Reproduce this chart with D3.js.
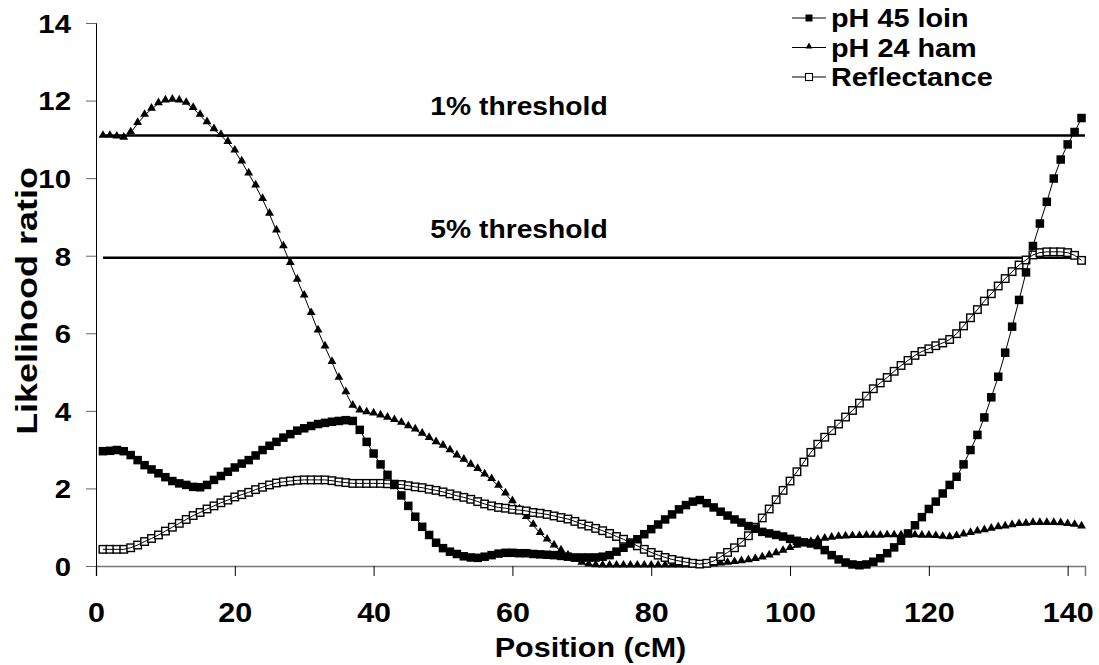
<!DOCTYPE html>
<html>
<head>
<meta charset="utf-8">
<script src="https://cdn.jsdelivr.net/npm/d3@7"></script>
<style>
  body { margin: 0; background: #fff; }
  text { font-family: "Liberation Sans", Arial, sans-serif; font-weight: bold; fill: #000; }
</style>
</head>
<body>
<svg id="chart" width="1099" height="665"></svg>
<script>
// marker grid, one point per cM
var positions = d3.range(1, 143);

var loin = [2.96, 2.97, 2.99, 2.96, 2.86, 2.73, 2.60, 2.49, 2.39, 2.29,
	2.19, 2.13, 2.09, 2.04, 2.03, 2.09, 2.22, 2.32, 2.43, 2.54,
	2.64, 2.73, 2.85, 2.99, 3.10, 3.20, 3.31, 3.40, 3.49, 3.55,
	3.61, 3.66, 3.69, 3.72, 3.74, 3.76, 3.74, 3.51, 3.20, 2.90,
	2.62, 2.35, 2.09, 1.82, 1.55, 1.27, 1.01, 0.80, 0.60, 0.46,
	0.37, 0.31, 0.25, 0.22, 0.21, 0.24, 0.28, 0.32, 0.34, 0.34,
	0.33, 0.33, 0.31, 0.30, 0.29, 0.28, 0.26, 0.24, 0.22, 0.22,
	0.22, 0.22, 0.24, 0.28, 0.37, 0.47, 0.58, 0.69, 0.82, 0.95,
	1.07, 1.20, 1.33, 1.46, 1.57, 1.66, 1.70, 1.62, 1.51, 1.40,
	1.30, 1.20, 1.12, 1.03, 0.96, 0.88, 0.84, 0.80, 0.76, 0.70,
	0.65, 0.61, 0.58, 0.54, 0.41, 0.28, 0.17, 0.09, 0.04, 0.02,
	0.04, 0.11, 0.20, 0.33, 0.48, 0.65, 0.84, 1.05, 1.26, 1.47,
	1.66, 1.87, 2.09, 2.30, 2.62, 2.99, 3.38, 3.83, 4.35, 4.88,
	5.50, 6.17, 6.86, 7.57, 8.25, 8.83, 9.39, 9.99, 10.48, 10.87,
	11.19, 11.55];

var ham = [11.08, 11.08, 11.06, 11.03, 11.17, 11.41, 11.62, 11.78, 11.92, 11.99,
	12.01, 11.99, 11.93, 11.80, 11.62, 11.43, 11.25, 11.10, 10.92, 10.70,
	10.42, 10.11, 9.80, 9.45, 9.07, 8.64, 8.23, 7.80, 7.37, 6.96,
	6.51, 6.06, 5.65, 5.25, 4.84, 4.47, 4.12, 4.00, 3.95, 3.92,
	3.87, 3.81, 3.75, 3.68, 3.59, 3.51, 3.40, 3.29, 3.18, 3.09,
	2.97, 2.84, 2.73, 2.60, 2.49, 2.35, 2.23, 2.06, 1.86, 1.66,
	1.45, 1.25, 1.05, 0.84, 0.67, 0.52, 0.39, 0.26, 0.15, 0.07,
	0.03, 0.01, 0.00, 0.00, 0.00, 0.00, 0.00, 0.00, 0.00, 0.00,
	0.00, 0.00, 0.00, 0.00, 0.00, 0.00, 0.00, 0.01, 0.03, 0.05,
	0.07, 0.09, 0.11, 0.14, 0.17, 0.21, 0.26, 0.32, 0.38, 0.45,
	0.51, 0.56, 0.61, 0.66, 0.69, 0.72, 0.74, 0.75, 0.76, 0.76,
	0.77, 0.77, 0.77, 0.78, 0.78, 0.78, 0.78, 0.78, 0.77, 0.77,
	0.76, 0.74, 0.73, 0.76, 0.80, 0.84, 0.88, 0.91, 0.95, 0.99,
	1.01, 1.04, 1.07, 1.08, 1.10, 1.10, 1.10, 1.10, 1.09, 1.07,
	1.05, 1.01];

var reflectance = [0.43, 0.43, 0.43, 0.43, 0.47, 0.54, 0.63, 0.71, 0.80, 0.90,
	1.00, 1.10, 1.20, 1.30, 1.38, 1.47, 1.55, 1.63, 1.70, 1.78,
	1.84, 1.90, 1.97, 2.03, 2.09, 2.14, 2.17, 2.19, 2.21, 2.22,
	2.22, 2.22, 2.22, 2.20, 2.17, 2.15, 2.13, 2.13, 2.13, 2.13,
	2.13, 2.12, 2.11, 2.10, 2.07, 2.04, 2.02, 1.98, 1.95, 1.91,
	1.86, 1.81, 1.77, 1.72, 1.66, 1.60, 1.55, 1.51, 1.49, 1.46,
	1.44, 1.42, 1.38, 1.36, 1.33, 1.29, 1.25, 1.21, 1.15, 1.08,
	1.03, 0.97, 0.91, 0.84, 0.76, 0.69, 0.60, 0.52, 0.43, 0.35,
	0.28, 0.22, 0.17, 0.13, 0.10, 0.07, 0.05, 0.07, 0.13, 0.24,
	0.35, 0.47, 0.61, 0.78, 1.00, 1.24, 1.47, 1.71, 1.95, 2.19,
	2.43, 2.68, 2.93, 3.14, 3.32, 3.49, 3.66, 3.84, 4.01, 4.20,
	4.38, 4.57, 4.72, 4.86, 5.02, 5.17, 5.30, 5.43, 5.53, 5.60,
	5.68, 5.75, 5.84, 5.99, 6.19, 6.40, 6.61, 6.83, 7.02, 7.22,
	7.41, 7.59, 7.76, 7.89, 8.02, 8.08, 8.10, 8.10, 8.10, 8.08,
	8.01, 7.88];

var thresholds = [11.1, 7.95];
var thresholdLabels = ["1% threshold", "5% threshold"];
var seriesNames = ["pH 45 loin", "pH 24 ham", "Reflectance"];
var xTicks = [0, 20, 40, 60, 80, 100, 120, 140];
var yTicks = [0, 2, 4, 6, 8, 10, 12, 14];

var svg = d3.select("#chart");
var STRETCH = 1.13;

var x = d3.scaleLinear().domain([0, 142.5]).range([96, 1085]);
var y = d3.scaleLinear().domain([0, 14]).range([566, 23]);

// the reference type is a bit wider than Arial, widen the glyphs
function stretch(sel, factor) {
	sel.each(function() {
		var w = this.getComputedTextLength();
		d3.select(this)
			.attr("textLength", w * (factor || STRETCH))
			.attr("lengthAdjust", "spacingAndGlyphs");
	});
}

// axes
var xAxis = d3.axisBottom(x).tickValues(xTicks).tickSize(10).tickPadding(26);
var gx = svg.append("g").attr("transform", "translate(0," + y(0) + ")").call(xAxis);
gx.attr("font-family", null);
gx.select(".domain").attr("stroke", "#777").attr("stroke-width", 1.5);
gx.selectAll(".tick line").attr("stroke", "#000");
gx.selectAll(".tick text")
	.attr("font-size", 27).attr("dy", "0.71em")
	.attr("y", 37)
	.call(stretch);

var yAxis = d3.axisLeft(y).tickValues(yTicks).tickSize(10).tickPadding(15);
var gy = svg.append("g").attr("transform", "translate(" + x(0) + ",0)").call(yAxis);
gy.attr("font-family", null);
gy.select(".domain").attr("stroke", "#000");
gy.selectAll(".tick line").attr("stroke", "#666");
gy.selectAll(".tick text")
	.attr("font-size", 26).attr("dy", "0.36em")
	.call(stretch);

svg.append("text")
	.attr("x", (x.range()[0] + x.range()[1]) / 2)
	.attr("y", 657)
	.attr("text-anchor", "middle")
	.attr("font-size", 27)
	.text("Position (cM)")
	.call(stretch);

svg.append("text")
	.attr("transform", "translate(37,301) rotate(-90)")
	.attr("text-anchor", "middle")
	.attr("font-size", 29)
	.text("Likelihood ratio")
	.call(stretch, 1.24);

// threshold lines
svg.selectAll(".thr").data(thresholds).enter().append("line")
	.attr("x1", x(1)).attr("x2", x(142.5))
	.attr("y1", function(d) { return y(d); })
	.attr("y2", function(d) { return y(d); })
	.attr("stroke", "#000").attr("stroke-width", 2.5);

svg.selectAll(".thrLabel").data(thresholds).enter().append("text")
	.attr("x", 519)
	.attr("y", function(d) { return y(d) - 20; })
	.attr("text-anchor", "middle")
	.attr("font-size", 25)
	.text(function(d, i) { return thresholdLabels[i]; })
	.call(stretch);

// series
function pts(values) {
	return positions.map(function(p, i) { return [p, values[i]]; });
}
var line = d3.line()
	.x(function(d) { return x(d[0]); })
	.y(function(d) { return y(d[1]); });

var triangle = d3.symbol().type(d3.symbolTriangle).size(34);

function drawLine(values) {
	svg.append("path").datum(pts(values))
		.attr("d", line)
		.attr("fill", "none")
		.attr("stroke", "#000")
		.attr("stroke-width", 1);
}

// pH 24 ham
drawLine(ham);
svg.append("g").selectAll("path").data(pts(ham)).enter().append("path")
	.attr("d", triangle)
	.attr("transform", function(d) { return "translate(" + x(d[0]) + "," + (y(d[1]) - 1) + ")"; })
	.attr("fill", "#000");

// reflectance, open squares with the line drawn over them
var rs = 7.5;
svg.append("g").selectAll("rect").data(pts(reflectance)).enter().append("rect")
	.attr("x", function(d) { return x(d[0]) - rs / 2; })
	.attr("y", function(d) { return y(d[1]) - rs / 2; })
	.attr("width", rs).attr("height", rs)
	.attr("fill", "#fff").attr("stroke", "#000").attr("stroke-width", 1.4);
drawLine(reflectance);

// pH 45 loin
drawLine(loin);
var ls = 8.5;
svg.append("g").selectAll("rect").data(pts(loin)).enter().append("rect")
	.attr("x", function(d) { return x(d[0]) - ls / 2; })
	.attr("y", function(d) { return y(d[1]) - ls / 2; })
	.attr("width", ls).attr("height", ls)
	.attr("fill", "#000");

// legend
var legend = svg.append("g");
var rowY = [18, 47.5, 77];
seriesNames.forEach(function(name, i) {
	var g = legend.append("g").attr("transform", "translate(0," + rowY[i] + ")");
	g.append("line").attr("x1", 792).attr("x2", 826).attr("y1", 0).attr("y2", 0)
		.attr("stroke", "#000").attr("stroke-width", 1);
	if (i == 0) {
		g.append("rect").attr("x", 805.5).attr("y", -3.5).attr("width", 7).attr("height", 7).attr("fill", "#000");
	} else if (i == 1) {
		g.append("path").attr("d", d3.symbol().type(d3.symbolTriangle).size(20)).attr("transform", "translate(809,-1)").attr("fill", "#000");
	} else {
		g.append("rect").attr("x", 805.5).attr("y", -3.5).attr("width", 7).attr("height", 7)
			.attr("fill", "#fff").attr("stroke", "#000").attr("stroke-width", 1.1);
	}
	g.append("text").attr("x", 831).attr("y", 9)
		.attr("font-size", 25.5)
		.text(name)
		.call(stretch);
});
</script>
</body>
</html>
